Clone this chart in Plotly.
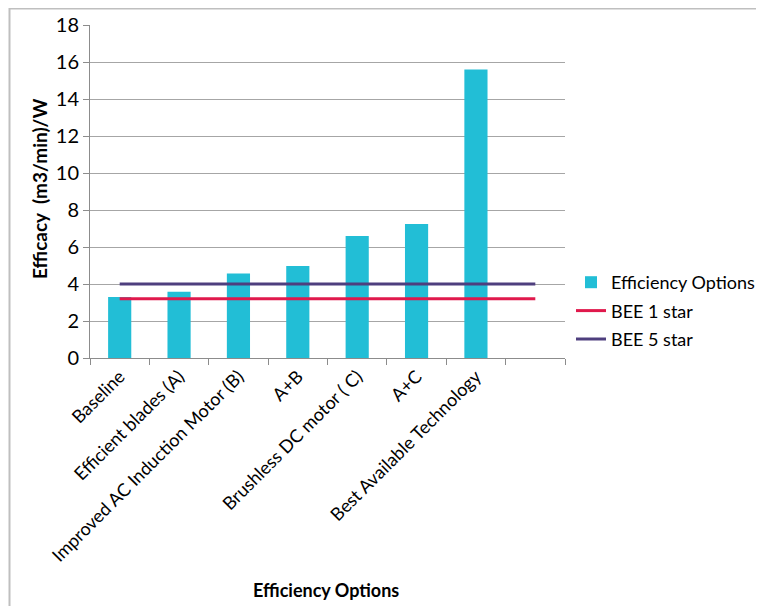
import plotly.graph_objects as go

categories = ["Baseline", "Efficient blades (A)", "Improved AC Induction Motor (B)",
              "A+B", "Brushless DC motor ( C)", "A+C", "Best Available Technology", " "]
efficacy = [3.3, 3.58, 4.57, 4.97, 6.6, 7.24, 15.6, None]
bee_1_star = [3.2] * 8
bee_5_star = [4.0] * 8
y_ticks = [0, 2, 4, 6, 8, 10, 12, 14, 16, 18]

FONT = "Lato"
OFF = 8  # page body margin
W, H = 764 - 2 * OFF, 614 - 2 * OFF
X0, X1, Y0, Y1 = 90, 565, 25, 358  # plot area in page pixels
L, R, T, B = X0 - OFF, W - (X1 - OFF), Y0 - OFF, H - (Y1 - OFF)
pw, ph = X1 - X0, Y1 - Y0


def px(x):
    return (x - X0) / pw


def py(y):
    return (Y1 - y) / ph


fig = go.Figure()
fig.add_trace(go.Bar(x=categories, y=efficacy, name="Efficiency Options", legendgroup="a",
                     marker=dict(color="#22BED6", line=dict(width=0))))
fig.add_trace(go.Scatter(x=categories, y=bee_1_star, name="BEE 1 star", mode="lines",
                         legendgroup="b", line=dict(color="#E0194C", width=3)))
fig.add_trace(go.Scatter(x=categories, y=bee_5_star, name="BEE 5 star", mode="lines",
                         legendgroup="c", line=dict(color="#4E3F7E", width=3)))

fig.update_layout(
    width=W, height=H,
    margin=dict(l=L, r=R, t=T, b=B, autoexpand=False),
    paper_bgcolor="white", plot_bgcolor="white",
    font=dict(family=FONT, color="#000000", size=16),
    bargap=0.61,
    showlegend=True,
    legend=dict(x=px(571), y=py(264), xanchor="left", yanchor="top",
                font=dict(size=18, family=FONT), tracegroupgap=2, itemwidth=30,
                bgcolor="rgba(0,0,0,0)"),
    xaxis=dict(categoryorder="array", categoryarray=categories, type="category",
               tickangle=-45, tickson="boundaries", ticks="outside", ticklen=6,
               tickcolor="#8C8C8C", showline=True, linecolor="#8C8C8C", linewidth=1,
               showgrid=False, tickfont=dict(size=18, family=FONT), automargin=False,
               range=[-0.5, 7.5]),
    yaxis=dict(range=[0, 18], tickvals=y_ticks, ticks="outside", ticklen=6,
               tickcolor="#8C8C8C", showline=True, linecolor="#8C8C8C", linewidth=1,
               showgrid=True, gridcolor="#A6A6A6", gridwidth=1, zeroline=False,
               tickfont=dict(size=20, family=FONT), automargin=False),
    annotations=[
        dict(text="<b>Efficacy  (m3/min)/W</b>", xref="paper", yref="paper",
             x=px(39), y=py(189), textangle=-90, showarrow=False,
             font=dict(size=19, family=FONT), xanchor="center", yanchor="middle"),
        dict(text="<b>Efficiency Options</b>", xref="paper", yref="paper",
             x=px(326), y=py(590), showarrow=False,
             font=dict(size=18, family=FONT), xanchor="center", yanchor="middle"),
    ],
    shapes=[
        dict(type="line", xref="paper", yref="paper",
             x0=px(9), x1=px(770), y0=py(8.5), y1=py(8.5),
             line=dict(color="#BFBFBF", width=2), layer="below"),
        dict(type="line", xref="paper", yref="paper",
             x0=px(9.5), x1=px(9.5), y0=py(8), y1=py(620),
             line=dict(color="#BFBFBF", width=2), layer="below"),
    ],
)

fig.write_html("out.html", config={"displayModeBar": False})
